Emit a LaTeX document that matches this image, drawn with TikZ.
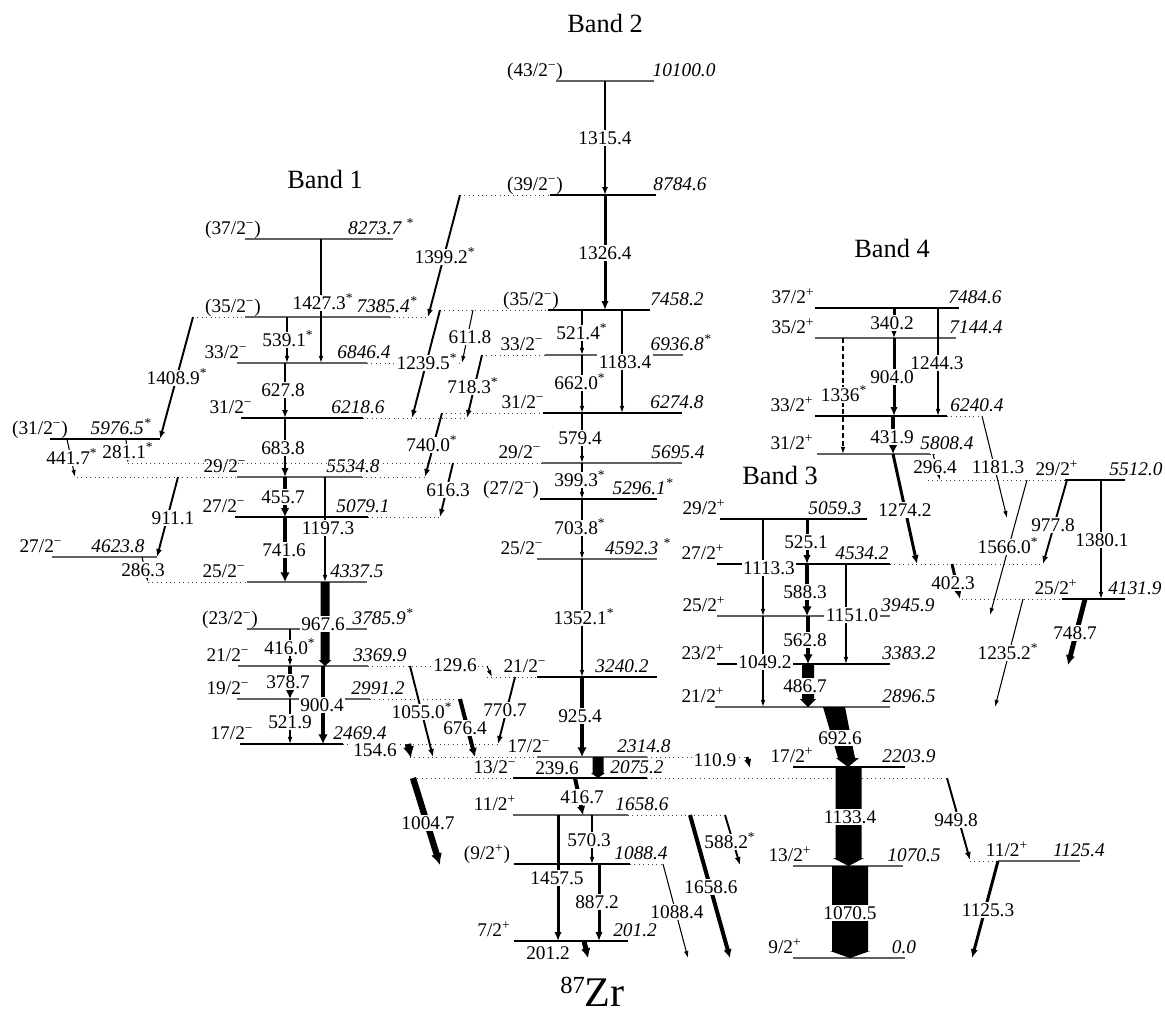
\documentclass[tikz,border=0pt]{standalone}
\usepackage{fontspec}
\setmainfont{Liberation Serif}
\usetikzlibrary{arrows.meta}

\newcommand{\nst}{\textsuperscript{*}}
\newcommand{\smn}{\textsuperscript{−}}
\newcommand{\spl}{\textsuperscript{+}}

% level: [style]{name}{y}{x1}{x2}{spin}{spin x}{energy}{energy x}
\newcommand{\lvl}[9][lev]{%
  \draw[#1] (#4,#3) -- (#5,#3);
  \node[spin] (s#2) at (#7,#3-5) {#6};
  \node[ener] (e#2) at (#9,#3-5) {#8};}

% wide vertical arrow: x, y1, y2, half width, half head, head length
\newcommand{\blockarr}[6]{%
  \fill ({#1-#4},#2) -- ({#1+#4},#2) -- ({#1+#4},{#3-#6}) -- ({#1+#5},{#3-#6})
    -- (#1,#3) -- ({#1-#5},{#3-#6}) -- ({#1-#4},{#3-#6}) -- cycle;}

\tikzset{
  lev/.style={line width=0.6pt},
  levg/.style={line width=0.8pt, black!62},
  ext/.style={line width=0.5pt, dotted, black!75},
  tr/.style={line width=0.6pt, -{Latex[length=4pt,width=2.6pt]}},
  trm/.style={line width=1.1pt, -{Latex[length=4.5pt,width=3.4pt]}},
  trt/.style={line width=1.7pt, -{Latex[length=5pt,width=4.2pt]}},
  trtt/.style={line width=2.3pt, -{Latex[length=5pt,width=4.8pt]}},
  trx/.style={line width=2.8pt, -{Latex[length=5.5pt,width=5.5pt]}},
  trxx/.style={line width=3.6pt, -{Latex[length=6.5pt,width=6.5pt]}},
  gl/.style={fill=white, inner sep=0.8pt, text height=7pt, text depth=0pt},
  spin/.style={anchor=base, inner sep=0pt},
  ener/.style={anchor=base, inner sep=0pt, font=\fontsize{11}{13}\selectfont\itshape},
  bandlbl/.style={font=\fontsize{15}{18}\selectfont},
}

\begin{document}
\begin{tikzpicture}[x=0.02cm, y=-0.02cm, font=\fontsize{11}{13}\selectfont]
  \useasboundingbox (0,0) rectangle (1165,1015);

  % titles
  \node[bandlbl] (band2) at (605,23) {Band 2};
  \node[bandlbl] (band1) at (325,179) {Band 1};
  \node[bandlbl] (band4) at (892,248) {Band 4};
  \node[bandlbl] (band3) at (780,475) {Band 3};
  \node[anchor=base west, inner sep=0pt, text depth=0pt] (nucl) at (560,1006)
    {\raisebox{7pt}{\fontsize{14}{14}\selectfont 87}\fontsize{24}{24}\selectfont Zr};

  % Band 2 levels
  \lvl[levg]{l10100}{81}{556}{654}{(43/2\smn)}{535}{10100.0}{684}
  \lvl{l8784}{195}{550}{656}{(39/2\smn)}{535}{8784.6}{680}
  \lvl{l7458}{310}{548}{650}{(35/2\smn)}{531}{7458.2}{677}
  \lvl[levg]{l6936}{355}{545}{683}{33/2\smn}{522}{6936.8\nst}{681}
  \lvl{l6274}{413}{543}{682}{31/2\smn}{523}{6274.8}{677}
  \lvl[levg]{l5695}{463}{542}{682}{29/2\smn}{520}{5695.4}{678}
  \lvl{l5296}{499}{540}{657}{(27/2\smn)}{511}{5296.1\nst}{643}
  \lvl[levg]{l4592}{559}{537}{657}{25/2\smn}{522}{4592.3\ \nst}{638}
  \lvl{l3240}{677}{537}{657}{21/2\smn}{525}{3240.2}{622}
  \lvl[levg]{l2314}{757}{537}{647}{17/2\smn}{529}{2314.8}{644}
  \lvl{l2075}{778}{513}{647}{13/2\smn}{495}{2075.2}{637}
  \lvl[levg]{l1658}{815}{513}{628}{11/2\spl}{495}{1658.6}{642}
  \lvl{l1088}{864}{514}{630}{(9/2\spl)}{487}{1088.4}{641}
  \lvl{l201}{941}{514}{628}{7/2\spl}{494}{201.2}{635}

  % Band 1 levels
  \lvl[levg]{l8273}{239}{245}{393}{(37/2\smn)}{233}{8273.7\ \nst}{381}
  \lvl[levg]{l7385}{317}{245}{390}{(35/2\smn)}{233}{7385.4\nst}{387}
  \lvl[levg]{l6846}{363}{237}{367}{33/2\smn}{226}{6846.4}{364}
  \lvl{l6218}{418}{241}{363}{31/2\smn}{231}{6218.6}{358}
  \lvl{l5976}{439}{50}{160}{(31/2\smn)}{40}{5976.5\nst}{121}
  \lvl[levg]{l5534}{477}{237}{362}{29/2\smn}{225}{5534.8}{353}
  \lvl{l5079}{517}{235}{368}{27/2\smn}{224}{5079.1}{363}
  \lvl[levg]{l4623}{557}{52}{157}{27/2\smn}{41}{4623.8}{118}
  \lvl[levg]{l4337}{582}{247}{367}{25/2\smn}{224}{4337.5}{357}
  \lvl[levg]{l3785}{629}{247}{367}{(23/2\smn)}{230}{3785.9\nst}{383}
  \lvl[levg]{l3369}{666}{238}{368}{21/2\smn}{228}{3369.9}{380}
  \lvl[levg]{l2991}{699}{237}{370}{19/2\smn}{228}{2991.2}{378}
  \lvl{l2469}{744}{240}{343}{17/2\smn}{232}{2469.4}{360}

  % Band 4 levels
  \lvl{l7484}{308}{815}{959}{37/2\spl}{793}{7484.6}{975}
  \lvl[levg]{l7144}{338}{815}{956}{35/2\spl}{793}{7144.4}{976}
  \lvl{l6240}{416}{815}{947}{33/2\spl}{792}{6240.4}{977}
  \lvl[levg]{l5808}{454}{817}{930}{31/2\spl}{792}{5808.4}{947}
  \lvl{l5512}{480}{1065}{1125}{29/2\spl}{1057}{5512.0}{1136}
  \lvl{l4131}{599}{1062}{1125}{25/2\spl}{1056}{4131.9}{1135}

  % Band 3 levels
  \lvl{l5059}{519}{720}{867}{29/2\spl}{704}{5059.3}{835}
  \lvl{l4534}{564}{717}{890}{27/2\spl}{703}{4534.2}{862}
  \lvl[levg]{l3945}{616}{717}{890}{25/2\spl}{704}{3945.9}{908}
  \lvl{l3383}{664}{717}{890}{23/2\spl}{703}{3383.2}{909}
  \lvl[levg]{l2896}{707}{715}{890}{21/2\spl}{703}{2896.5}{909}

  % low-lying levels
  \lvl{l2203}{767}{793}{905}{17/2\spl}{792}{2203.9}{909}
  \lvl[levg]{l1125}{861}{998}{1080}{11/2\spl}{1007}{1125.4}{1079}
  \lvl[levg]{l1070}{866}{793}{903}{13/2\spl}{790}{1070.5}{914}
  \lvl[levg]{l0}{958}{793}{905}{9/2\spl}{785}{0.0}{904}

  % dotted extensions
  \draw[ext] (460,195) -- (550,195);
  \draw[ext] (440,310) -- (548,310);
  \draw[ext] (482,355) -- (545,355);
  \draw[ext] (442,413) -- (543,413);
  \draw[ext] (128,463) -- (542,463);
  \draw[ext] (487,677) -- (537,677);
  \draw[ext] (410,757) -- (537,757) (647,757) -- (747,757);
  \draw[ext] (413,778) -- (513,778) (647,778) -- (947,778);
  \draw[ext] (628,815) -- (725,815);
  \draw[ext] (630,864) -- (663,864);
  \draw[ext] (193,317) -- (245,317) (390,317) -- (428,317);
  \draw[ext] (367,363) -- (462,363);
  \draw[ext] (363,418) -- (467,418);
  \draw[ext] (77,477) -- (237,477) (362,477) -- (427,477);
  \draw[ext] (368,517) -- (440,517);
  \draw[ext] (148,582) -- (247,582);
  \draw[ext] (368,666) -- (487,666);
  \draw[ext] (370,699) -- (460,699);
  \draw[ext] (343,744) -- (498,744);
  \draw[ext] (947,416) -- (982,416);
  \draw[ext] (930,454) -- (935,454);
  \draw[ext] (928,480) -- (1065,480);
  \draw[ext] (962,599) -- (1062,599);
  \draw[ext] (890,564) -- (1043,564);
  \draw[ext] (970,861) -- (998,861);

  % Band 2 transitions
  \draw[trm] (605,81) -- (605,195);
  \draw[trt] (605,195) -- (605,310);
  \draw[trm] (460,195) -- (428,317);
  \draw[tr] (582,310) -- (582,355);
  \draw[tr] (622,310) -- (622,413);
  \draw[tr] (473,310) -- (462,363);
  \draw[trm] (440,310) -- (412,418);
  \draw[tr] (582,355) -- (582,413);
  \draw[trm] (482,355) -- (467,418);
  \draw[tr] (582,413) -- (582,463);
  \draw[trm] (442,413) -- (425,477);
  \draw[trm] (453,463) -- (440,517);
  \draw[tr] (582,463) -- (582,499);
  \draw[tr] (582,499) -- (582,559);
  \draw[tr] (582,559) -- (582,677);
  \draw[trx] (582,677) -- (582,757);
  \draw[trm] (515,677) -- (498,744);
  \draw[trtt] (575,778) -- (583,815);
  \draw[trt] (558,815) -- (558,941);
  \draw[tr] (592,815) -- (592,864);
  \draw[trt] (599,864) -- (599,941);
  \draw[tr] (663,864) -- (688,958);
  \draw[trtt] (690,815) -- (730,958);
  \draw[trm] (725,815) -- (740,865);
  \draw[trx] (584,941) -- (588,958);
  \draw[trxx] (413,778) -- (440,865);
  \draw[trt] (747,757) -- (750,768);

  % Band 1 transitions
  \draw[tr] (321,239) -- (321,363);
  \draw[tr] (287,317) -- (287,363);
  \draw[trm] (285,363) -- (285,418);
  \draw[trm] (193,317) -- (160,439);
  \draw[trt] (285,418) -- (285,477);
  \draw[tr] (67,439) -- (75,477);
  \draw[tr] (126,439) -- (128,463);
  \draw[trtt] (285,477) -- (285,517);
  \draw[trm] (178,477) -- (157,557);
  \draw[tr] (325,477) -- (325,582);
  \draw[trx] (285,517) -- (285,582);
  \draw[tr] (142,557) -- (148,582);
  \draw[tr] (290,629) -- (290,666);
  \draw[trtt] (290,666) -- (290,699);
  \draw[trx] (323,666) -- (323,744);
  \draw[tr] (290,699) -- (290,744);
  \draw[trxx] (408,744) -- (411,758);
  \draw[trm] (410,666) -- (433,757);
  \draw[trtt] (460,699) -- (475,757);
  \draw[tr] (487,666) -- (492,677);

  % Band 4 transitions
  \draw[trt] (894,308) -- (894,338);
  \draw[tr] (938,308) -- (938,416);
  \draw[trt] (894,338) -- (894,416);
  \draw[tr, dash pattern=on 3pt off 1.5pt] (843,338) -- (843,454);
  \draw[trtt] (893,416) -- (893,454);
  \draw[trt] (893,454) -- (917,564);
  \draw[tr] (933,454) -- (940,480);
  \draw[tr] (982,416) -- (1007,518);
  \draw[tr] (1027,480) -- (990,615);
  \draw[trm] (1067,480) -- (1043,564);
  \draw[tr] (1101,480) -- (1101,599);
  \draw[trt] (952,564) -- (960,599);
  \draw[trx] (1085,599) -- (1068,665);
  \draw[tr] (1023,599) -- (995,707);

  % Band 3 transitions
  \draw[tr] (763,519) -- (763,616);
  \draw[trt] (807,519) -- (807,564);
  \draw[trx] (807,564) -- (807,616);
  \draw[tr] (846,564) -- (846,664);
  \draw[trx] (808,616) -- (808,664);
  \draw[tr] (763,616) -- (763,707);
  \draw[trm] (947,778) -- (970,860);
  \draw[trt] (998,861) -- (972,958);

  % wide arrows
  \blockarr{598}{757}{778}{5.5}{7}{5}
  \blockarr{325}{582}{666}{4.5}{6.5}{6}
  \blockarr{808}{664}{707}{6}{8}{8}
  \blockarr{848.5}{767}{866}{13}{15.5}{8}
  \blockarr{850}{866}{958}{18}{20}{7}
  \fill (823,707) -- (845,707) -- (855,758) -- (859,758) -- (848,767)
    -- (836,758) -- (838,758) -- cycle;

  % gamma labels
  \node[gl] (g1315) at (605,138) {1315.4};
  \node[gl] (g1326) at (605,253) {1326.4};
  \node[gl] (g1399) at (445,257) {1399.2\nst};
  \node[gl] (g521) at (582,333) {521.4\nst};
  \node[gl] (g1183) at (625,362) {1183.4};
  \node[gl] (g611) at (470,337) {611.8};
  \node[gl] (g1239) at (427,363) {1239.5\nst};
  \node[gl] (g662) at (580,383) {662.0\nst};
  \node[gl] (g718) at (473,387) {718.3\nst};
  \node[gl] (g579) at (580,438) {579.4};
  \node[gl] (g740) at (432,445) {740.0\nst};
  \node[gl] (g616) at (448,490) {616.3};
  \node[gl] (g399) at (580,480) {399.3\nst};
  \node[gl] (g703) at (580,528) {703.8\nst};
  \node[gl] (g1352) at (584,618) {1352.1\nst};
  \node[gl] (g925) at (580,716) {925.4};
  \node[gl] (g770) at (505,710) {770.7};
  \node[gl] (g239) at (557,768) {239.6};
  \node[gl] (g416b) at (582,797) {416.7};
  \node[gl] (g1457) at (557,878) {1457.5};
  \node[gl] (g570) at (589,840) {570.3};
  \node[gl] (g887) at (597,902) {887.2};
  \node[gl] (g1088) at (677,912) {1088.4};
  \node[gl] (g1658) at (711,887) {1658.6};
  \node[gl] (g588b) at (730,842) {588.2\nst};
  \node[gl] (g201) at (548,953) {201.2};
  \node[gl] (g1004) at (428,823) {1004.7};
  \node[gl] (g110) at (715,760) {110.9};

  \node[gl] (g1427) at (323,303) {1427.3\nst};
  \node[gl] (g539) at (288,340) {539.1\nst};
  \node[gl] (g627) at (283,390) {627.8};
  \node[gl] (g1408) at (177,378) {1408.9\nst};
  \node[gl] (g683) at (283,448) {683.8};
  \node[gl] (g441) at (72,458) {441.7\nst};
  \node[gl] (g281) at (128,452) {281.1\nst};
  \node[gl] (g455) at (283,497) {455.7};
  \node[gl] (g911) at (173,518) {911.1};
  \node[gl] (g1197) at (328,528) {1197.3};
  \node[gl] (g741) at (284,550) {741.6};
  \node[gl] (g286) at (143,570) {286.3};
  \node[gl] (g967) at (323,624) {967.6};
  \node[gl] (g416a) at (290,648) {416.0\nst};
  \node[gl] (g378) at (288,682) {378.7};
  \node[gl] (g900) at (322,705) {900.4};
  \node[gl] (g521b) at (290,722) {521.9};
  \node[gl] (g154) at (375,750) {154.6};
  \node[gl] (g1055) at (422,712) {1055.0\nst};
  \node[gl] (g676) at (465,728) {676.4};
  \node[gl] (g129) at (455,665) {129.6};

  \node[gl] (g340) at (892,323) {340.2};
  \node[gl] (g1244) at (937,363) {1244.3};
  \node[gl] (g904) at (892,377) {904.0};
  \node[gl] (g1336) at (844,395) {1336\nst};
  \node[gl] (g431) at (892,437) {431.9};
  \node[gl] (g1274) at (905,510) {1274.2};
  \node[gl] (g296) at (935,467) {296.4};
  \node[gl] (g1181) at (998,467) {1181.3};
  \node[gl] (g1566) at (1008,547) {1566.0\nst};
  \node[gl] (g977) at (1053,525) {977.8};
  \node[gl] (g1380) at (1102,540) {1380.1};
  \node[gl] (g402) at (953,583) {402.3};
  \node[gl] (g748) at (1075,633) {748.7};
  \node[gl] (g1235) at (1008,653) {1235.2\nst};

  \node[gl] (g1113) at (769,568) {1113.3};
  \node[gl] (g525) at (806,542) {525.1};
  \node[gl] (g588a) at (805,592) {588.3};
  \node[gl] (g1151) at (852,615) {1151.0};
  \node[gl] (g562) at (805,640) {562.8};
  \node[gl] (g1049) at (765,662) {1049.2};
  \node[gl] (g486) at (805,686) {486.7};
  \node[gl] (g692) at (840,738) {692.6};
  \node[gl] (g1133) at (850,817) {1133.4};
  \node[gl] (g1070) at (850,913) {1070.5};
  \node[gl] (g949) at (956,820) {949.8};
  \node[gl] (g1125) at (988,910) {1125.3};
\end{tikzpicture}
\end{document}
